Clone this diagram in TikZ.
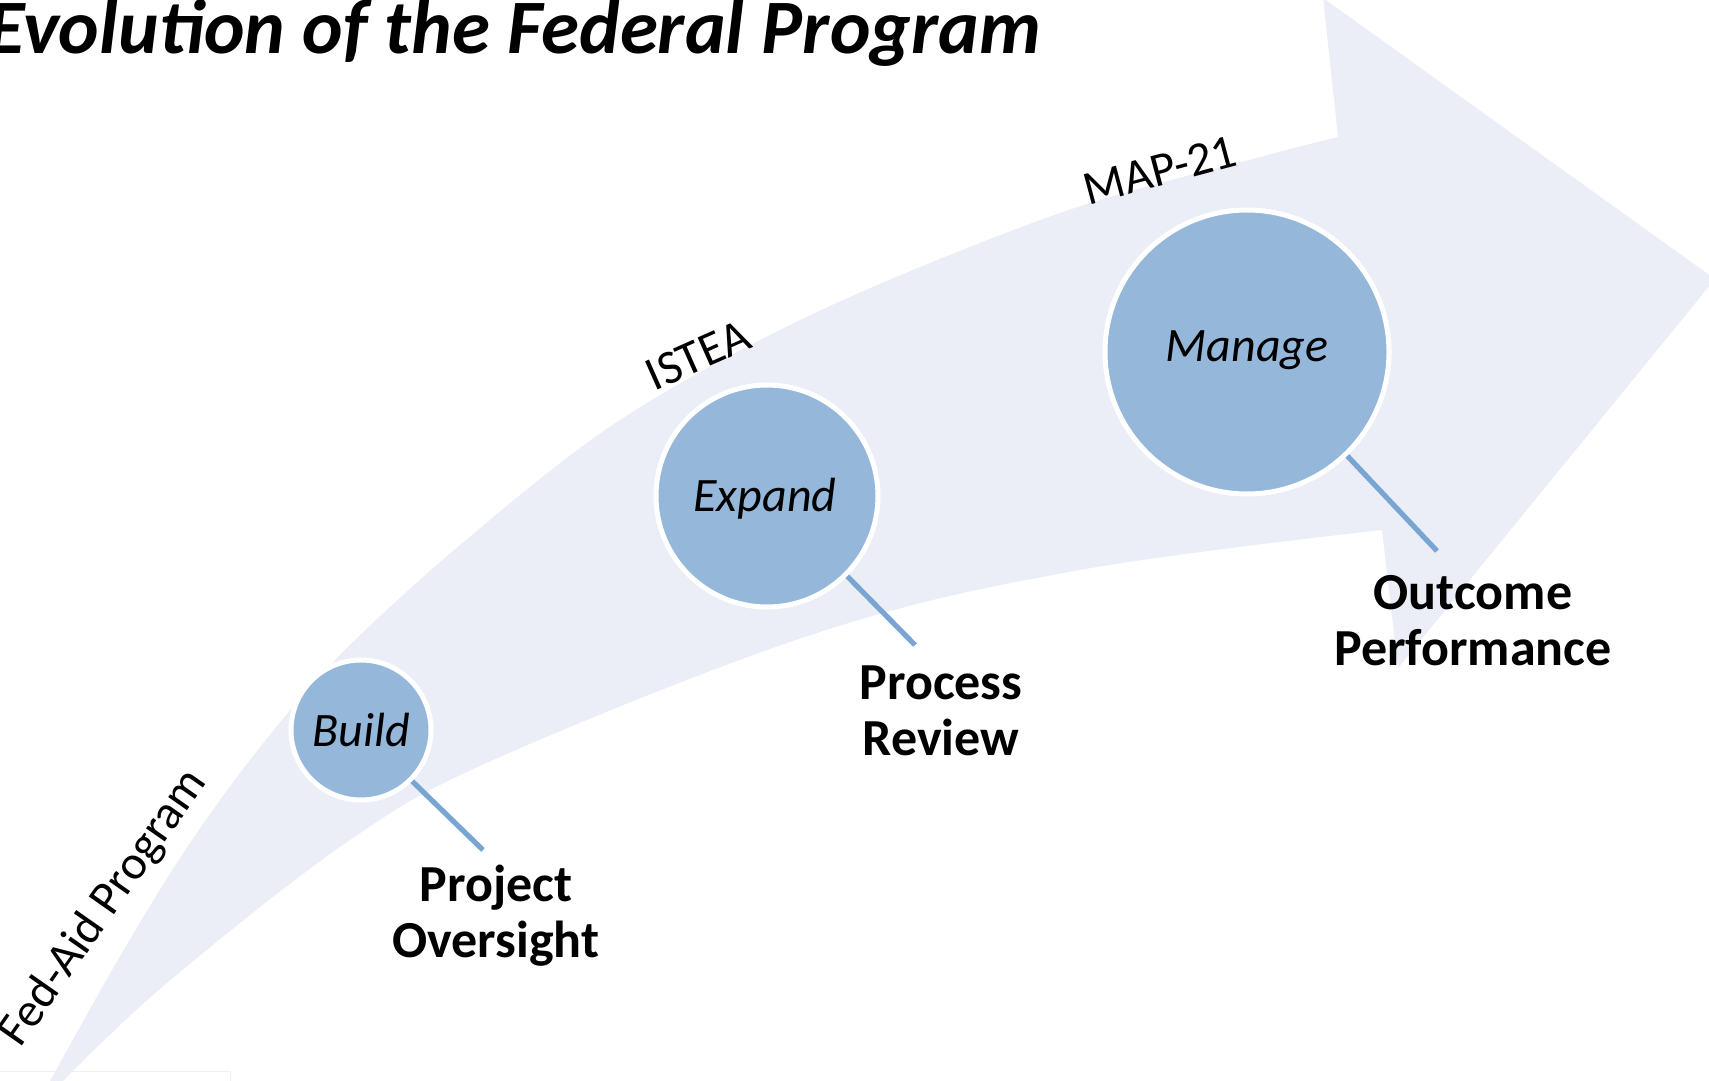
\documentclass[tikz,border=0pt]{standalone}
\usepackage{fontspec}
\setmainfont{Carlito}
\definecolor{arrowfill}{HTML}{EBEEF6}
\definecolor{circfill}{HTML}{95B7DA}
\definecolor{connblue}{HTML}{79A5D2}
\begin{document}
\begin{tikzpicture}[x=0.5pt,y=-0.5pt,
  stage/.style={circle, fill=circfill, draw=white, line width=2.5pt, inner sep=0pt},
  stagetext/.style={font=\fontsize{24}{28}\selectfont\itshape, inner sep=0pt},
  conn/.style={draw=connblue, line width=2.6pt},
  outlbl/.style={font=\fontsize{26}{28}\selectfont\bfseries, align=center, inner sep=0pt},
  era/.style={font=\fontsize{24}{28}\selectfont, inner sep=0pt}]
\useasboundingbox (0,0) rectangle (1709,1081);
% big curved arrow
\fill[arrowfill] plot[smooth, tension=0.55] coordinates {(50,1081) (115,965) (180,858) (250,760) (335,660) (460,545) (620,420) (817,312) (1060,213) (1260,157) (1338,137)}
  -- (1323,-2) -- (1715,279) -- (1398,668) -- (1382,530)
  -- plot[smooth, tension=0.6] coordinates {(1382,530) (1080,570) (820,632) (500,757) (350,840) (167,983) (63,1081)} -- cycle;
% faint frame at bottom left
\draw[draw=black!6, line width=0.5pt] (0,1071) -- (230,1071) -- (230,1081);
% title
\node[anchor=base west, inner sep=0pt, font=\fontsize{38.5}{42}\selectfont\bfseries\itshape] (title) at (-13,54) {Evolution of the Federal Program};
% era labels
\node[era, rotate=55] (fedaid) at (104,908) {Fed-Aid Program};
\node[era, rotate=24] (istea) at (698,355) {ISTEA};
\node[era, rotate=15] (map) at (1160,170) {MAP-21};
% connector ends
\coordinate (bend) at (483,850);
\coordinate (eend) at (915,645);
\coordinate (mend) at (1437,551);
% stage circles
\node[stage, minimum size=70pt] (build) at (361,730) {};
\node[stage, minimum size=111pt] (expand) at (767,496) {};
\node[stage, minimum size=142pt] (manage) at (1247,352) {};
\draw[conn] (build.-45) -- (bend);
\draw[conn] (expand.-45) -- (eend);
\draw[conn] (manage.-46) -- (mend);
\node[stagetext] (buildt) at (build) {Build};
\node[stagetext] (expandt) at (765,499) {Expand};
\node[stagetext] (managet) at (1247,350) {Manage};
% outcome labels
\node[outlbl] (proj) at (496,916) {Project\\Oversight};
\node[outlbl] (proc) at (941,711) {Process\\Review};
\node[outlbl] (outc) at (1473,621) {Outcome\\Performance};
\end{tikzpicture}
\end{document}
